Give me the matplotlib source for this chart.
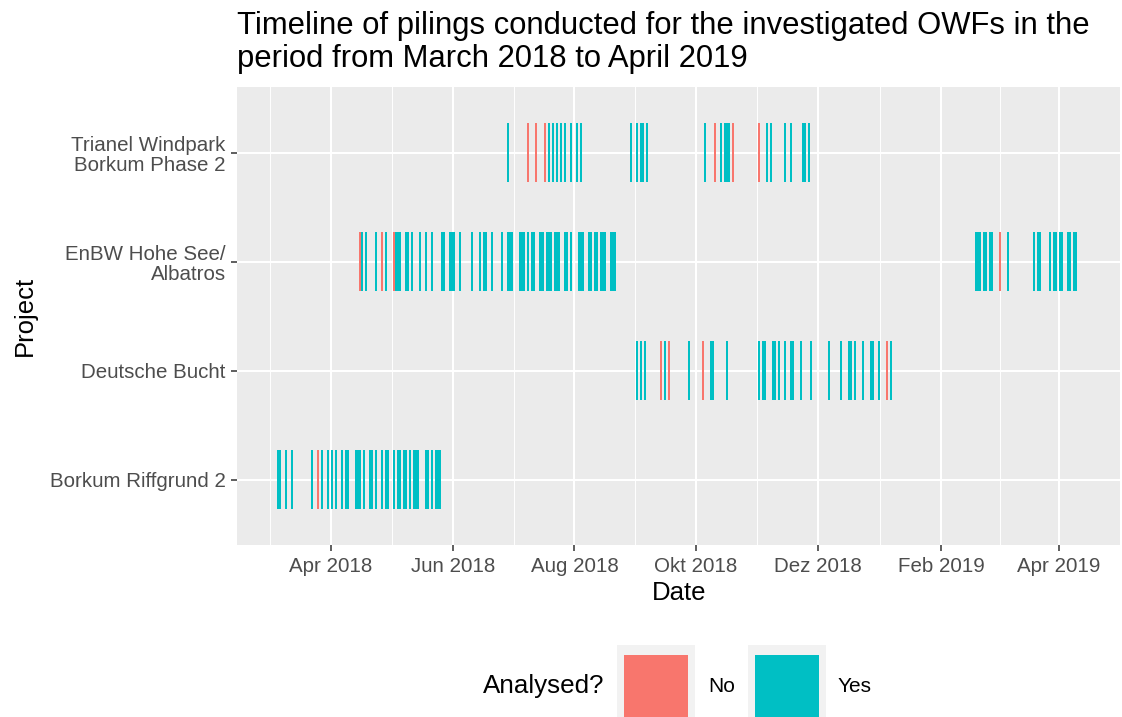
import matplotlib
matplotlib.use('Agg')
import matplotlib.pyplot as plt
import matplotlib.dates as mdates
from matplotlib.patches import Rectangle
import numpy as np

plt.rcParams['font.family'] = ['Liberation Sans', 'DejaVu Sans']

# pilings per project, split by whether they were analysed
projects = ['Borkum Riffgrund 2', 'Deutsche Bucht', 'EnBW Hohe See/\nAlbatros',
            'Trianel Windpark\nBorkum Phase 2']

borkum_yes = ['2018-03-05', '2018-03-06', '2018-03-09', '2018-03-12', '2018-03-22', '2018-03-27',
              '2018-03-30', '2018-04-01', '2018-04-03', '2018-04-06', '2018-04-08', '2018-04-09',
              '2018-04-13', '2018-04-14', '2018-04-15', '2018-04-17', '2018-04-20', '2018-04-21',
              '2018-04-23', '2018-04-26', '2018-04-28', '2018-04-29', '2018-05-02', '2018-05-04',
              '2018-05-05', '2018-05-07', '2018-05-08', '2018-05-10', '2018-05-12', '2018-05-13',
              '2018-05-14', '2018-05-18', '2018-05-19', '2018-05-21', '2018-05-23', '2018-05-24',
              '2018-05-25']
borkum_no = ['2018-03-25']

db_yes = ['2018-09-01', '2018-09-03', '2018-09-05', '2018-09-15', '2018-09-27', '2018-10-08',
          '2018-10-09', '2018-10-16', '2018-11-01', '2018-11-03', '2018-11-04', '2018-11-08',
          '2018-11-09', '2018-11-11', '2018-11-14', '2018-11-17', '2018-11-18', '2018-11-22',
          '2018-11-27', '2018-12-06', '2018-12-12', '2018-12-16', '2018-12-17', '2018-12-19',
          '2018-12-23', '2018-12-27', '2018-12-28', '2018-12-31', '2019-01-06']
db_no = ['2018-09-13', '2018-09-17', '2018-10-04', '2019-01-04']

enbw_yes = ['2018-04-16', '2018-04-18', '2018-04-23', '2018-04-28', '2018-05-03', '2018-05-04',
            '2018-05-05', '2018-05-08', '2018-05-09', '2018-05-11', '2018-05-15', '2018-05-18',
            '2018-05-21', '2018-05-26', '2018-05-27', '2018-05-30', '2018-05-31', '2018-06-01',
            '2018-06-04', '2018-06-10', '2018-06-14', '2018-06-16', '2018-06-17', '2018-06-20',
            '2018-06-25', '2018-06-28', '2018-06-29', '2018-06-30', '2018-07-04', '2018-07-05',
            '2018-07-06', '2018-07-08', '2018-07-10', '2018-07-11', '2018-07-14', '2018-07-15',
            '2018-07-16', '2018-07-18', '2018-07-19', '2018-07-20', '2018-07-22', '2018-07-23',
            '2018-07-24', '2018-07-27', '2018-07-28', '2018-07-30', '2018-08-03', '2018-08-04',
            '2018-08-05', '2018-08-08', '2018-08-09', '2018-08-11', '2018-08-12', '2018-08-14',
            '2018-08-15', '2018-08-16', '2018-08-19', '2018-08-20', '2018-08-21',
            '2019-02-18', '2019-02-19', '2019-02-20', '2019-02-22', '2019-02-23', '2019-02-25',
            '2019-02-26', '2019-03-06', '2019-03-19', '2019-03-21', '2019-03-22', '2019-03-27',
            '2019-03-29', '2019-03-30', '2019-04-01', '2019-04-02', '2019-04-05', '2019-04-06',
            '2019-04-08', '2019-04-09']
enbw_no = ['2018-04-15', '2018-04-26', '2018-05-02', '2019-03-02']

trianel_yes = ['2018-06-28', '2018-07-19', '2018-07-21', '2018-07-23', '2018-07-25', '2018-07-27',
               '2018-07-30', '2018-08-02', '2018-08-04', '2018-08-29', '2018-09-01', '2018-09-03',
               '2018-09-04', '2018-09-06', '2018-10-05', '2018-10-13', '2018-10-15', '2018-10-16',
               '2018-10-17', '2018-11-05', '2018-11-07', '2018-11-14', '2018-11-17', '2018-11-23',
               '2018-11-24', '2018-11-26']
trianel_no = ['2018-07-08', '2018-07-12', '2018-07-17', '2018-10-10', '2018-10-19', '2018-11-01']

tick_dates = ['2018-04-01', '2018-06-01', '2018-08-01', '2018-10-01', '2018-12-01',
              '2019-02-01', '2019-04-01']
tick_labels = ['Apr 2018', 'Jun 2018', 'Aug 2018', 'Okt 2018', 'Dez 2018', 'Feb 2019', 'Apr 2019']

legend_labels = ['No', 'Yes']

RED = '#F8766D'
TEAL = '#00BFC4'

W, H = 1122, 717
fig = plt.figure(figsize=(W / 100, H / 100), dpi=100)
# panel in pixel terms: x 237..1120, y 87..545
ax = fig.add_axes([237.3 / W, 1 - 545 / H, (1120 - 237.3) / W, (545 - 87.3) / H])
ax.set_facecolor('#EBEBEB')

rows = [(borkum_yes, borkum_no), (db_yes, db_no), (enbw_yes, enbw_no), (trianel_yes, trianel_no)]
all_x = []
for i, (yes, no) in enumerate(rows):
    y = i + 1
    for dates, col in ((yes, TEAL), (no, RED)):
        x = mdates.datestr2num(dates)
        all_x.extend(x)
        ax.bar(x, 0.54, width=1, bottom=y - 0.27, align='edge', color=col, linewidth=0, zorder=3)

# ggplot-like 5% expansion
lo, hi = min(all_x), max(all_x)
pad = 0.05 * (hi - lo)
ax.set_xlim(lo - pad, hi + pad)
ax.set_ylim(0.4, len(projects) + 0.6)

major = mdates.datestr2num(tick_dates)
step = major[1] - major[0]
ext = np.concatenate([[major[0] - step], major, [major[-1] + step]])
minor = (ext[:-1] + ext[1:]) / 2
ax.set_xticks(major)
ax.set_xticklabels(tick_labels)
ax.set_xticks(minor, minor=True)
ax.set_yticks(range(1, len(projects) + 1))
ax.set_yticklabels(projects, linespacing=1.1)

ax.set_axisbelow(True)
ax.grid(which='major', color='white', linewidth=1.45, zorder=0)
ax.grid(which='minor', axis='x', color='white', linewidth=0.7, zorder=0)
for s in ax.spines.values():
    s.set_visible(False)
ax.tick_params(which='major', length=4.3, width=1.1, color='#333333',
               labelcolor='#4D4D4D', labelsize=14.8, pad=4)
ax.tick_params(which='minor', length=0)

ax.set_xlabel('Date', fontsize=18.5, va='center')
ax.xaxis.set_label_coords(0.5, -(593 - 545) / (545 - 87.3))
ax.set_ylabel('Project', fontsize=18.5, va='center')
ax.yaxis.set_label_coords(-(237.3 - 25) / (1120 - 237.3), 0.5)

fig.text(237.3 / W, 1 - 34.3 / H,
         'Timeline of pilings conducted for the investigated OWFs in the',
         fontsize=22.3, va='baseline', ha='left')
fig.text(237.3 / W, 1 - 66.7 / H, 'period from March 2018 to April 2019',
         fontsize=22.3, va='baseline', ha='left')

# legend at the bottom, drawn by hand to keep ggplot's layout
fig.text(483 / W, 1 - 686 / H, 'Analysed?', fontsize=18.7, va='center', ha='left')
for bx, col, lab, tx in ((617, RED, legend_labels[0], 708), (748, TEAL, legend_labels[1], 838)):
    fig.add_artist(Rectangle((bx / W, 1 - 725 / H), 78 / W, 80 / H,
                             transform=fig.transFigure, color='#F2F2F2', lw=0))
    fig.add_artist(Rectangle(((bx + 7) / W, 1 - 719 / H), 64 / W, 64 / H,
                             transform=fig.transFigure, color=col, lw=0))
    fig.text(tx / W, 1 - 686 / H, lab, fontsize=15, va='center', ha='left')

fig.savefig('out.png', dpi=100)
